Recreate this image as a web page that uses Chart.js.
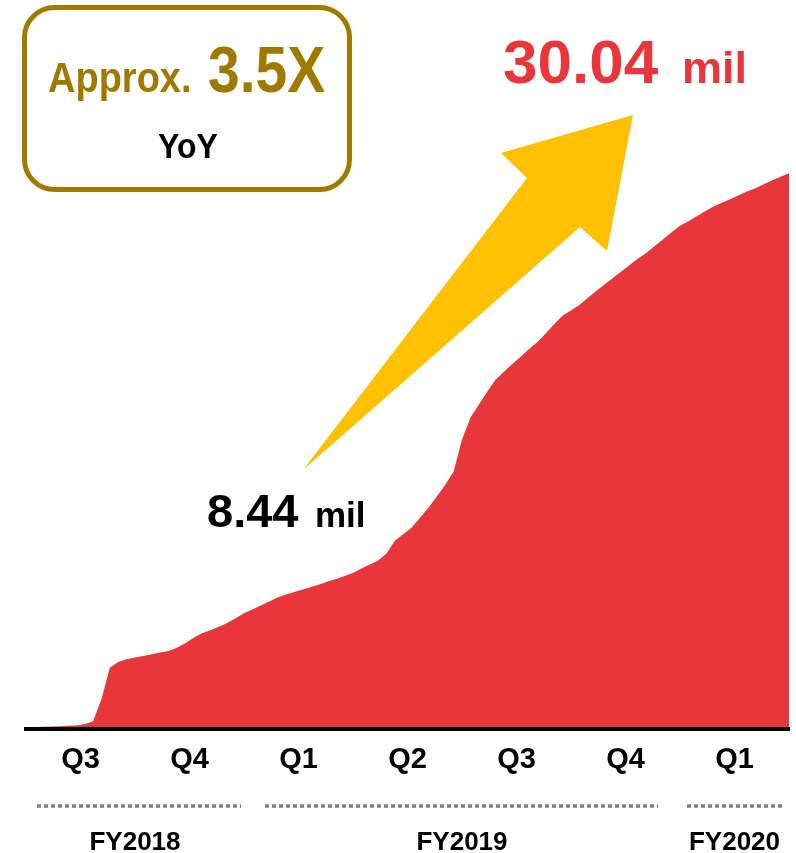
<!DOCTYPE html>
<html>
<head>
<meta charset="utf-8">
<script src="https://cdn.jsdelivr.net/npm/chart.js@4"></script>
<style>
  html, body { margin: 0; padding: 0; background: #fff; }
  canvas { display: block; }
</style>
</head>
<body>
<canvas id="users" width="796" height="853"></canvas>
<script>
// Cumulative users (mil), one value per week, FY2018 Q3 -> FY2020 Q1
const users = [
    0.05, 0.11, 0.13, 0.15, 0.16, 0.18, 0.20, 0.27, 0.43, 1.62,
    3.32, 3.63, 3.78, 3.88, 3.96, 4.05, 4.14, 4.23, 4.40, 4.64,
    4.94, 5.18, 5.35, 5.53, 5.74, 5.99, 6.26, 6.47, 6.69, 6.90,
    7.12, 7.28, 7.42, 7.55, 7.69, 7.82, 7.98, 8.12, 8.28, 8.44,
    8.68, 8.90, 9.12, 9.49, 10.19, 10.54, 10.90, 11.43, 11.97, 12.57,
    13.21, 13.92, 15.64, 16.83, 17.53, 18.23, 18.88, 19.31, 19.74, 20.12,
    20.55, 20.93, 21.40, 21.88, 22.36, 22.63, 22.92, 23.30, 23.68, 24.03,
    24.38, 24.73, 25.08, 25.43, 25.75, 26.11, 26.48, 26.86, 27.21, 27.45,
    27.72, 27.99, 28.24, 28.45, 28.64, 28.86, 29.05, 29.23, 29.45, 29.67,
    29.85, 30.04
];
const weeks = users.map((_, i) => i);

const quarters = ['Q3', 'Q4', 'Q1', 'Q2', 'Q3', 'Q4', 'Q1'];
const weeksPerQuarter = 13;
const fiscalYears = ['FY2018', 'FY2019', 'FY2020'];
const fiscalQuarters = [2, 4, 1];   // quarters shown for each fiscal year

const yearAgoWeek = 39;             // end of FY2019 Q1
const latestWeek = users.length - 1;
const growth = '3.5X';

const FONT = '"Liberation Sans", Arial, sans-serif';
const RED = '#E8363A';
const GOLD = '#A07A00';
const ARROW = '#FFC000';

function stretchedText(ctx, text, x, y, sy) {
    ctx.save();
    ctx.translate(x, y);
    ctx.scale(1, sy);
    ctx.fillText(text, 0, 0);
    ctx.restore();
}

const overlay = {
    id: 'overlay',
    afterDraw(chart) {
        const ctx = chart.ctx;
        const x = chart.scales.x;

        // fiscal year brackets under the quarter ticks
        const inset = [[11, 3], [21, 22], [7, 6]];
        let q = 0;
        ctx.save();
        fiscalYears.forEach((fy, i) => {
            const x0 = x.getPixelForValue(q * weeksPerQuarter);
            q += fiscalQuarters[i];
            const x1 = x.getPixelForValue(q * weeksPerQuarter);
            ctx.strokeStyle = '#7F7F7F';
            ctx.lineWidth = 3.5;
            ctx.setLineDash([4, 3]);
            ctx.beginPath();
            ctx.moveTo(x0 + inset[i][0], 806);
            ctx.lineTo(x1 - inset[i][1], 806);
            ctx.stroke();
            ctx.setLineDash([]);
            ctx.fillStyle = '#000';
            ctx.font = 'bold 26px ' + FONT;
            ctx.textAlign = 'center';
            ctx.textBaseline = 'alphabetic';
            ctx.fillText(fy, (x0 + x1) / 2, 850);
        });
        ctx.restore();

        // growth box
        ctx.save();
        ctx.strokeStyle = GOLD;
        ctx.lineWidth = 5;
        ctx.beginPath();
        ctx.roundRect(24.5, 7.5, 325, 182, 30);
        ctx.stroke();
        ctx.fillStyle = GOLD;
        ctx.textAlign = 'left';
        ctx.font = 'bold 38px ' + FONT;
        stretchedText(ctx, 'Approx.', 48, 92, 1.1);
        ctx.font = 'bold 57px ' + FONT;
        stretchedText(ctx, growth, 208, 92, 1.14);
        ctx.fillStyle = '#000';
        ctx.textAlign = 'center';
        ctx.font = 'bold 32px ' + FONT;
        stretchedText(ctx, 'YoY', 188, 158, 1.12);
        ctx.restore();

        // arrow
        ctx.save();
        ctx.fillStyle = ARROW;
        ctx.beginPath();
        ctx.moveTo(303, 470);
        ctx.lineTo(527, 178);
        ctx.lineTo(501, 153);
        ctx.lineTo(633, 115);
        ctx.lineTo(607, 251);
        ctx.lineTo(580, 227);
        ctx.closePath();
        ctx.fill();
        ctx.restore();

        // value labels
        ctx.save();
        ctx.textAlign = 'left';
        ctx.textBaseline = 'alphabetic';
        ctx.fillStyle = '#000';
        ctx.font = 'bold 47px ' + FONT;
        ctx.fillText(users[yearAgoWeek].toFixed(2), 207, 527);
        ctx.font = 'bold 35px ' + FONT;
        ctx.fillText('mil', 315, 527);
        ctx.fillStyle = RED;
        ctx.font = 'bold 62px ' + FONT;
        ctx.fillText(users[latestWeek].toFixed(2), 503, 83);
        ctx.font = 'bold 45px ' + FONT;
        ctx.fillText('mil', 682, 83);
        ctx.restore();
    }
};

new Chart(document.getElementById('users'), {
    type: 'line',
    data: {
        datasets: [{
            data: weeks.map((w, i) => ({ x: w, y: users[i] })),
            fill: 'origin',
            backgroundColor: RED,
            borderWidth: 0,
            pointRadius: 0,
            tension: 0
        }]
    },
    options: {
        responsive: false,
        animation: false,
        layout: { padding: { left: 26, right: 7, top: 63, bottom: 63 } },
        plugins: { legend: { display: false }, tooltip: { enabled: false } },
        scales: {
            x: {
                type: 'linear',
                min: 0,
                max: latestWeek,
                grid: { display: false, drawTicks: false },
                border: { display: true, color: '#000', width: 4, z: 1 },
                afterBuildTicks: (scale) => {
                    scale.ticks = quarters.map((_, i) => ({ value: (i + 0.5) * weeksPerQuarter }));
                },
                ticks: {
                    autoSkip: false,
                    maxRotation: 0,
                    padding: 13,
                    color: '#000',
                    font: { family: FONT, size: 29, weight: 'bold' },
                    callback: (value, index) => quarters[index]
                }
            },
            y: {
                display: false,
                min: 0,
                max: 36
            }
        }
    },
    plugins: [overlay]
});
</script>
</body>
</html>
